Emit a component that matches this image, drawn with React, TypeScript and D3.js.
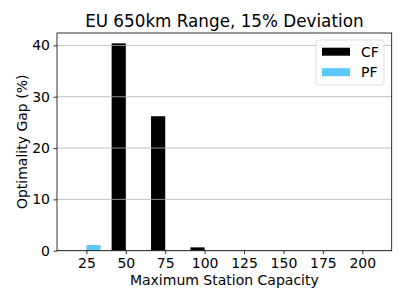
import React, { useEffect, useRef } from 'react';
import * as d3 from 'd3';

const capacities = [25, 50, 75, 100, 125, 150, 175, 200];
const cfGap = [0, 40.4, 26.2, 0.65, 0, 0, 0, 0];
const pfGap = [1.1, 0, 0, 0, 0, 0, 0, 0];
const yTicks = [0, 10, 20, 30, 40];

const series = [
  { name: 'CF', values: cfGap, color: '#000000', side: -1 },
  { name: 'PF', values: pfGap, color: '#5ac8fa', side: 0 },
];

function App() {
  const svgRef = useRef<SVGSVGElement>(null);

  useEffect(() => {
    const svg = d3.select(svgRef.current);
    svg.selectAll('*').remove();

    const width = 407;
    const height = 305;
    const margin = { top: 33, right: 15.3, bottom: 54.3, left: 57 };
    const font = 'DejaVu Sans, sans-serif';
    const fs = 14;
    const barW = 9;

    const x0 = (d3.min(capacities) as number) - barW;
    const x1 = (d3.max(capacities) as number) + barW;
    const xPad = (x1 - x0) * 0.05;
    const x = d3.scaleLinear()
      .domain([x0 - xPad, x1 + xPad])
      .range([margin.left, width - margin.right]);

    const yMax = d3.max([...cfGap, ...pfGap]) as number;
    const y = d3.scaleLinear()
      .domain([0, yMax * 1.05])
      .range([height - margin.bottom, margin.top]);

    svg.append('rect')
      .attr('width', width).attr('height', height).attr('fill', '#fff');

    // bars
    series.forEach((s) => {
      svg.append('g')
        .selectAll('rect')
        .data(s.values)
        .join('rect')
        .attr('x', (d, i) => x(capacities[i] + s.side * barW))
        .attr('width', x(barW) - x(0))
        .attr('y', (d) => y(d))
        .attr('height', (d) => y(0) - y(d))
        .attr('fill', s.color);
    });

    // grid above patches, like matplotlib
    svg.append('g')
      .selectAll('line')
      .data(yTicks)
      .join('line')
      .attr('x1', margin.left).attr('x2', width - margin.right)
      .attr('y1', (d) => y(d)).attr('y2', (d) => y(d))
      .attr('stroke', '#b0b0b0').attr('stroke-width', 0.8);

    const xAxis = svg.append('g')
      .attr('transform', `translate(0,${height - margin.bottom})`)
      .call(d3.axisBottom(x).tickValues(capacities).tickSize(3.5).tickPadding(3.5).tickFormat(d3.format('d')));
    const yAxis = svg.append('g')
      .attr('transform', `translate(${margin.left},0)`)
      .call(d3.axisLeft(y).tickValues(yTicks).tickSize(3.5).tickPadding(3.5));

    [xAxis, yAxis].forEach((g) => {
      g.select('.domain').remove();
      g.selectAll('.tick line').attr('stroke', '#000').attr('stroke-width', 0.8);
      g.selectAll('.tick text')
        .attr('font-family', font).attr('font-size', fs).attr('fill', '#000');
    });

    // spines
    svg.append('rect')
      .attr('x', margin.left).attr('y', margin.top)
      .attr('width', width - margin.left - margin.right)
      .attr('height', height - margin.top - margin.bottom)
      .attr('fill', 'none').attr('stroke', '#000').attr('stroke-width', 0.8);

    svg.append('text')
      .attr('x', (margin.left + width - margin.right) / 2).attr('y', 27)
      .attr('text-anchor', 'middle')
      .attr('font-family', font).attr('font-size', 16.8)
      .text('EU 650km Range, 15% Deviation');

    svg.append('text')
      .attr('x', (margin.left + width - margin.right) / 2).attr('y', 285)
      .attr('text-anchor', 'middle')
      .attr('font-family', font).attr('font-size', fs)
      .text('Maximum Station Capacity');

    svg.append('text')
      .attr('transform', `translate(27,${(margin.top + height - margin.bottom) / 2}) rotate(-90)`)
      .attr('text-anchor', 'middle')
      .attr('font-family', font).attr('font-size', fs)
      .text('Optimality Gap (%)');

    // legend
    const lg = svg.append('g').attr('transform', 'translate(316,40)');
    lg.append('rect')
      .attr('width', 68).attr('height', 45).attr('rx', 3)
      .attr('fill', '#fff').attr('fill-opacity', 0.8)
      .attr('stroke', '#d5d5d5').attr('stroke-width', 0.8);
    series.forEach((s, i) => {
      lg.append('rect')
        .attr('x', 6).attr('y', 7.7 + i * 20.5)
        .attr('width', 28).attr('height', 8)
        .attr('fill', s.color);
      lg.append('text')
        .attr('x', 45).attr('y', 16.8 + i * 20.5)
        .attr('font-family', font).attr('font-size', fs)
        .text(s.name);
    });
  }, []);

  return (
    <svg ref={svgRef} width={407} height={305}
      style={{ position: 'absolute', left: 0, top: 0 }} />
  );
}

export default App;
